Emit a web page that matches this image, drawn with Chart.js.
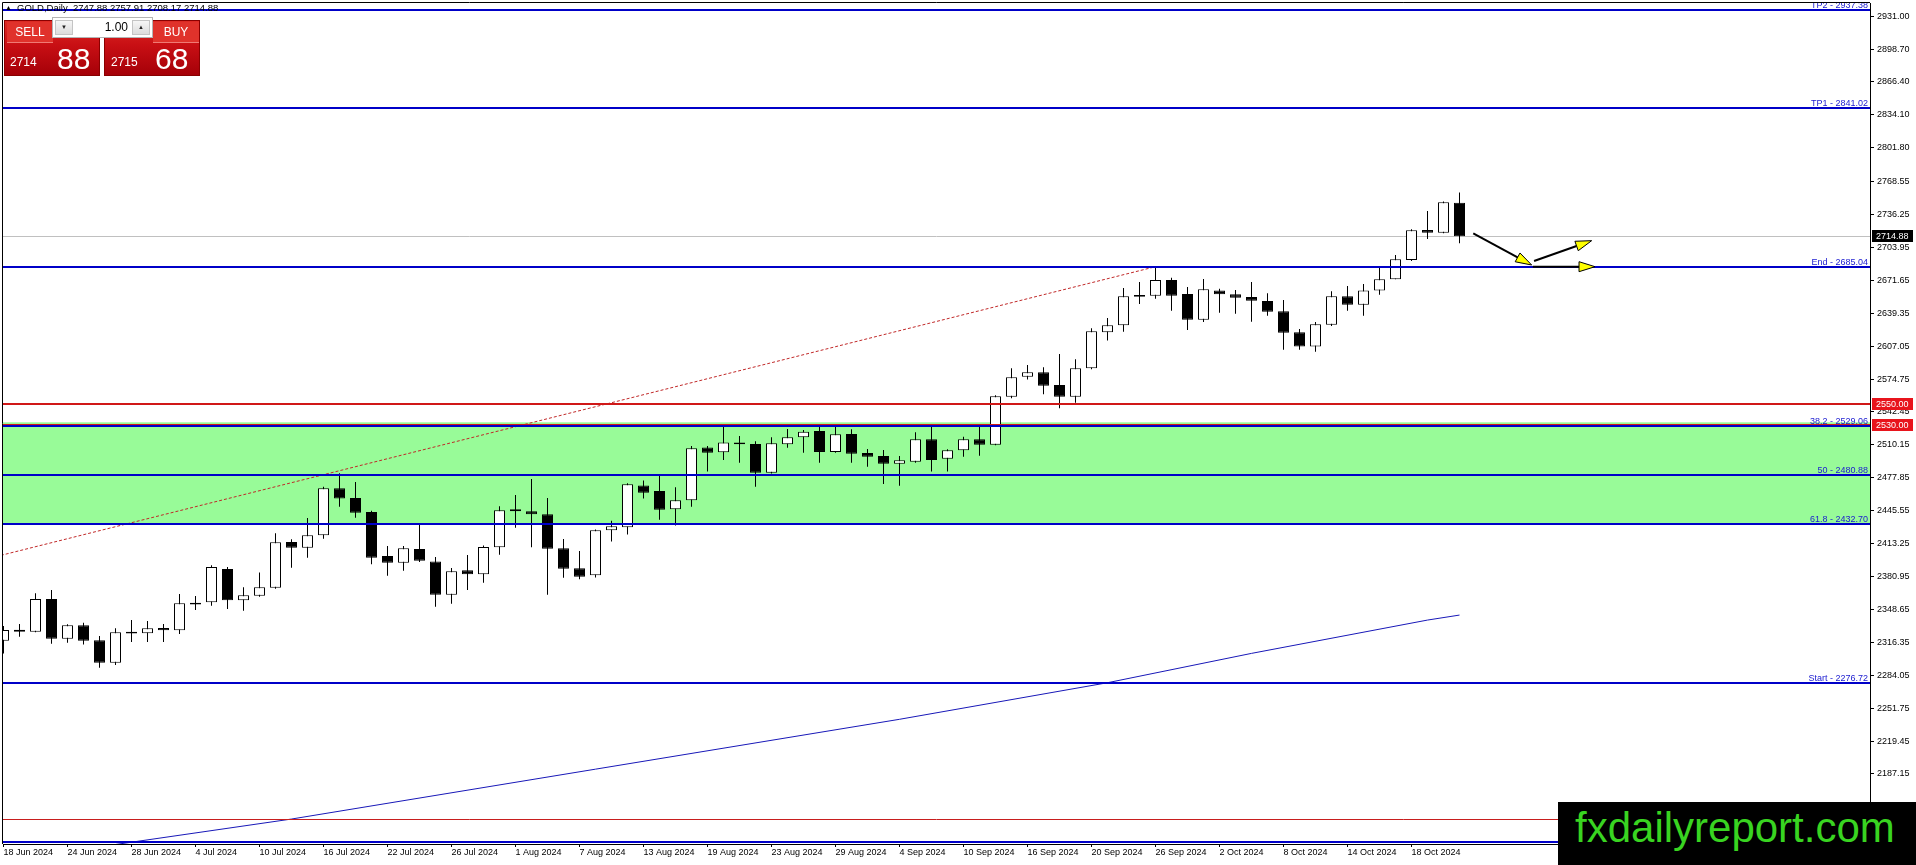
<!DOCTYPE html>
<html>
<head>
<meta charset="utf-8">
<title>GOLD,Daily</title>
<script src="https://cdn.jsdelivr.net/npm/chart.js@4.4.1/dist/chart.umd.min.js"></script>
<style>
    html, body { margin: 0; padding: 0; background: #fff; overflow: hidden; }
    #wrap { position: relative; width: 1916px; height: 865px; font-family: "Liberation Sans", Arial, sans-serif; }
    #goldChart { position: absolute; left: 0; top: 0; }
    .abs { position: absolute; }
    #symbol { left: 17px; top: 3px; font-size: 9.5px; line-height: 1; color: #000; white-space: pre; }
    #tri { left: 5px; top: 4px; font-size: 7px; line-height: 1; color: #000; }
    .trade { top: 20px; height: 56px; box-sizing: border-box; border: 1px solid #8a0000;
             background: linear-gradient(#dd2a24, #c80f14 45%, #a50008); color: #fff; }
    .trade .head { top: 1px; height: 21px; box-sizing: border-box; background: #e0322b;
                   border-bottom: 1px solid #f07a74; font-size: 12px; line-height: 20px; text-align: center; }
    .trade .small { font-size: 12px; line-height: 1; }
    .trade .big { font-size: 30px; line-height: 1; }
    #spin { left: 52px; top: 17px; width: 101px; height: 21px; box-sizing: border-box; background: #fff; border: 1px solid #b4b4b4; }
    .btn { top: 2px; width: 18px; height: 15px; box-sizing: border-box; border: 1px solid #c4c4c4;
           background: linear-gradient(#f6f6f6, #dcdcdc); font-size: 6px; line-height: 13px; text-align: center; color: #222; }
    #lot { right: 24px; top: 3px; font-size: 12px; line-height: 1; color: #000; }
    #brand { left: 1558px; top: 802px; width: 358px; height: 63px; background: #000; }
    #brand span { position: absolute; left: 17px; top: 5px; font-size: 42px; line-height: 1; color: #39d421; white-space: nowrap; }
</style>
</head>
<body>
<div id="wrap">
    <canvas id="goldChart" width="1916" height="865"></canvas>

    <div id="tri" class="abs">▲</div>
    <div id="symbol" class="abs">GOLD,Daily  2747.88 2757.91 2708.17 2714.88</div>

    <div class="abs trade" style="left:4px;width:96px;">
        <div class="abs head" style="left:2px;width:46px;">SELL</div>
        <div class="abs small" style="left:5px;top:35px;">2714</div>
        <div class="abs big" style="left:52px;top:23px;">88</div>
    </div>
    <div class="abs trade" style="left:104px;width:96px;">
        <div class="abs head" style="left:48px;width:46px;">BUY</div>
        <div class="abs small" style="left:6px;top:35px;">2715</div>
        <div class="abs big" style="left:50px;top:23px;">68</div>
    </div>
    <div id="spin" class="abs">
        <div class="abs btn" style="left:2px;">▼</div>
        <div id="lot" class="abs">1.00</div>
        <div class="abs btn" style="right:2px;">▲</div>
    </div>

    <div id="brand" class="abs"><span>fxdailyreport.com</span></div>
</div>

<script>
// GOLD Daily candles
// ================================================

const dates = [
    '18 Jun 2024', '19 Jun 2024', '20 Jun 2024', '21 Jun 2024', '24 Jun 2024', '25 Jun 2024', '26 Jun 2024', '27 Jun 2024', '28 Jun 2024',
    '1 Jul 2024', '2 Jul 2024', '3 Jul 2024', '4 Jul 2024', '5 Jul 2024', '8 Jul 2024', '9 Jul 2024', '10 Jul 2024', '11 Jul 2024',
    '12 Jul 2024', '15 Jul 2024', '16 Jul 2024', '17 Jul 2024', '18 Jul 2024', '19 Jul 2024', '22 Jul 2024', '23 Jul 2024', '24 Jul 2024',
    '25 Jul 2024', '26 Jul 2024', '29 Jul 2024', '30 Jul 2024', '31 Jul 2024',
    '1 Aug 2024', '2 Aug 2024', '5 Aug 2024', '6 Aug 2024', '7 Aug 2024', '8 Aug 2024', '9 Aug 2024', '12 Aug 2024', '13 Aug 2024',
    '14 Aug 2024', '15 Aug 2024', '16 Aug 2024', '19 Aug 2024', '20 Aug 2024', '21 Aug 2024', '22 Aug 2024', '23 Aug 2024', '26 Aug 2024',
    '27 Aug 2024', '28 Aug 2024', '29 Aug 2024', '30 Aug 2024',
    '2 Sep 2024', '3 Sep 2024', '4 Sep 2024', '5 Sep 2024', '6 Sep 2024', '9 Sep 2024', '10 Sep 2024', '11 Sep 2024', '12 Sep 2024',
    '13 Sep 2024', '16 Sep 2024', '17 Sep 2024', '18 Sep 2024', '19 Sep 2024', '20 Sep 2024', '23 Sep 2024', '24 Sep 2024', '25 Sep 2024',
    '26 Sep 2024', '27 Sep 2024', '30 Sep 2024',
    '1 Oct 2024', '2 Oct 2024', '3 Oct 2024', '4 Oct 2024', '7 Oct 2024', '8 Oct 2024', '9 Oct 2024', '10 Oct 2024', '11 Oct 2024',
    '14 Oct 2024', '15 Oct 2024', '16 Oct 2024', '17 Oct 2024', '18 Oct 2024', '21 Oct 2024', '22 Oct 2024', '23 Oct 2024'
];

const opens = [
    2318.0, 2328.6, 2326.8, 2358.9, 2319.9, 2333.0, 2318.3, 2296.4, 2326.8, 2325.2,
    2330.4, 2328.1, 2355.3, 2355.6, 2388.3, 2357.6, 2362.1, 2370.0, 2414.8, 2409.3,
    2421.4, 2467.5, 2458.0, 2444.3, 2401.1, 2394.5, 2407.9, 2395.8, 2363.1, 2387.0,
    2383.1, 2409.6, 2446.9, 2444.9, 2442.0, 2408.6, 2389.0, 2382.1, 2426.3, 2429.2,
    2470.4, 2464.9, 2446.9, 2455.7, 2507.7, 2502.8, 2512.6, 2511.0, 2482.9, 2510.7,
    2517.6, 2523.8, 2503.2, 2520.8, 2502.2, 2499.2, 2491.7, 2493.7, 2515.6, 2496.6,
    2504.8, 2515.6, 2510.4, 2557.5, 2577.1, 2581.4, 2568.9, 2557.5, 2585.3, 2620.6,
    2627.5, 2657.3, 2656.6, 2672.0, 2658.2, 2633.0, 2661.8, 2657.9, 2655.3, 2651.4,
    2641.2, 2620.6, 2606.6, 2628.1, 2656.0, 2647.8, 2661.8, 2672.6, 2691.6, 2721.1,
    2718.4, 2747.88
];
const highs = [
    2332.4, 2334.3, 2364.4, 2367.7, 2334.0, 2335.6, 2322.6, 2330.1, 2338.3, 2337.3,
    2334.3, 2363.8, 2361.8, 2391.9, 2390.3, 2370.3, 2385.0, 2423.3, 2417.4, 2438.4,
    2469.1, 2482.2, 2473.7, 2445.6, 2410.9, 2410.9, 2432.2, 2400.1, 2389.3, 2402.1,
    2411.5, 2449.8, 2460.9, 2476.7, 2458.0, 2417.8, 2406.0, 2427.0, 2435.8, 2472.4,
    2475.3, 2479.6, 2468.5, 2509.1, 2509.1, 2528.0, 2518.9, 2513.6, 2517.6, 2525.7,
    2524.8, 2528.0, 2528.0, 2525.4, 2506.1, 2505.1, 2499.2, 2522.5, 2528.0, 2505.8,
    2518.2, 2528.7, 2558.8, 2585.3, 2588.6, 2586.3, 2599.4, 2594.1, 2624.6, 2634.7,
    2664.1, 2670.0, 2685.04, 2674.3, 2665.1, 2673.0, 2663.5, 2662.2, 2670.0, 2658.9,
    2652.4, 2623.9, 2630.8, 2660.9, 2666.1, 2668.1, 2684.4, 2696.5, 2721.7, 2739.7,
    2749.0, 2757.91
];
const lows = [
    2305.5, 2321.9, 2326.2, 2315.0, 2316.0, 2314.1, 2291.5, 2294.1, 2316.7, 2316.7,
    2316.7, 2324.5, 2348.1, 2352.3, 2349.1, 2347.4, 2361.0, 2369.0, 2389.6, 2399.4,
    2418.1, 2449.5, 2438.7, 2392.9, 2381.8, 2386.7, 2395.2, 2351.3, 2354.3, 2367.7,
    2374.9, 2402.4, 2428.9, 2409.6, 2363.1, 2379.8, 2378.2, 2380.1, 2415.2, 2422.3,
    2457.4, 2436.7, 2430.9, 2449.5, 2483.9, 2495.3, 2492.7, 2469.1, 2482.0, 2507.4,
    2502.5, 2492.7, 2502.5, 2492.7, 2488.8, 2471.8, 2470.1, 2492.7, 2483.9, 2483.9,
    2498.6, 2499.6, 2509.7, 2555.8, 2574.2, 2559.8, 2546.0, 2551.6, 2584.3, 2612.5,
    2621.3, 2648.4, 2653.7, 2641.9, 2622.9, 2630.7, 2639.9, 2638.9, 2631.1, 2637.0,
    2603.6, 2603.6, 2601.6, 2626.8, 2641.9, 2637.0, 2657.6, 2672.6, 2690.6, 2712.2,
    2717.8, 2708.17
];
const closes = [
    2328.5, 2326.8, 2358.9, 2319.9, 2333.0, 2318.0, 2296.4, 2326.2, 2324.9, 2330.1,
    2328.1, 2354.6, 2353.5, 2390.3, 2357.6, 2362.5, 2370.3, 2414.5, 2409.3, 2421.4,
    2467.5, 2457.4, 2443.6, 2399.4, 2394.5, 2408.6, 2396.5, 2363.1, 2386.0, 2383.1,
    2409.9, 2445.9, 2444.9, 2442.0, 2408.3, 2388.6, 2380.8, 2426.3, 2430.2, 2471.4,
    2463.2, 2446.6, 2455.7, 2506.8, 2502.5, 2512.6, 2510.7, 2482.9, 2511.7, 2517.6,
    2523.1, 2503.2, 2520.5, 2501.5, 2498.6, 2491.7, 2495.0, 2515.6, 2495.3, 2504.8,
    2515.6, 2510.4, 2557.8, 2576.5, 2581.4, 2568.3, 2557.5, 2585.3, 2621.6, 2627.5,
    2656.0, 2655.6, 2672.0, 2656.6, 2633.0, 2662.8, 2657.9, 2654.6, 2651.7, 2640.9,
    2620.3, 2606.6, 2628.5, 2656.0, 2647.8, 2661.8, 2672.6, 2692.3, 2720.7, 2718.4,
    2748.2, 2714.88
];

// Moving average, read at a handful of bars along the thin blue curve
const maBars = [7, 18, 56, 69, 78, 89, 91];
const maValues = [2117.9, 2142.9, 2240.8, 2276.7, 2305.5, 2338.2, 2343.1];

// Price scale labels (right side)
const priceTicks = [
    2931.00, 2898.70, 2866.40, 2834.10, 2801.80, 2768.55, 2736.25, 2703.95,
    2671.65, 2639.35, 2607.05, 2574.75, 2542.45, 2510.15, 2477.85, 2445.55,
    2413.25, 2380.95, 2348.65, 2316.35, 2284.05, 2251.75, 2219.45, 2187.15
];

// Fibonacci expansion levels (blue lines)
const fibNames = ['TP2', 'TP1', 'End', '38.2', '50', '61.8', 'Start', ''];
const fibPrices = [2937.38, 2841.02, 2685.04, 2529.06, 2480.88, 2432.70, 2276.72, 2120.74];

// Red horizontal levels
const redLevels = [2550.00, 2530.00];
const supportLevel = 2142.9;

// Green zone and last price
const zoneTop = 2532.3;
const zoneBottom = 2432.70;
const lastPrice = 2714.88;

// Dashed fib diagonal: start low (early May) -> 26 Sep high
const trendBars = [-32, 72];
const trendPrices = [2276.72, 2685.04];

// Forecast arrows (bar, price) -> (bar, price)
const arrowFromBars = [91.86, 95.66, 95.58];
const arrowFromPrices = [2717.8, 2690.6, 2685.04];
const arrowToBars = [95.51, 99.26, 99.47];
const arrowToPrices = [2686.7, 2710.6, 2685.04];

// Visible window of the MT4 chart
const xMin = -0.03125;
const xMax = 116.65625;
const yMin = 2118.40;
const yMax = 2943.87;

Chart.defaults.font.family = '"Liberation Sans", Arial, sans-serif';
Chart.defaults.font.size = 9;
Chart.defaults.color = '#000';

function hLine(ctx, area, py, color, width) {
    const yy = width % 2 ? Math.round(py) + 0.5 : Math.round(py);
    ctx.strokeStyle = color;
    ctx.lineWidth = width;
    ctx.beginPath();
    ctx.moveTo(area.left, yy);
    ctx.lineTo(area.right, yy);
    ctx.stroke();
}

function drawArrow(ctx, x0, y0, x1, y1) {
    const ang = Math.atan2(y1 - y0, x1 - x0);
    const len = 16, half = 5;
    const bx = x1 - len * Math.cos(ang);
    const by = y1 - len * Math.sin(ang);

    ctx.strokeStyle = '#000';
    ctx.lineWidth = 2;
    ctx.beginPath();
    ctx.moveTo(x0, y0);
    ctx.lineTo(bx, by);
    ctx.stroke();

    ctx.beginPath();
    ctx.moveTo(x1, y1);
    ctx.lineTo(bx + half * Math.sin(ang), by - half * Math.cos(ang));
    ctx.lineTo(bx - half * Math.sin(ang), by + half * Math.cos(ang));
    ctx.closePath();
    ctx.fillStyle = '#ffff00';
    ctx.fill();
    ctx.lineWidth = 1;
    ctx.stroke();
}

function axisTag(ctx, chart, value, bg) {
    const y = Math.round(chart.scales.y.getPixelForValue(value));
    const left = chart.chartArea.right + 2;
    ctx.fillStyle = bg;
    ctx.fillRect(left, y - 6, 41, 12);
    ctx.fillStyle = '#fff';
    ctx.font = '9px "Liberation Sans", Arial, sans-serif';
    ctx.textAlign = 'left';
    ctx.textBaseline = 'middle';
    ctx.fillText(value.toFixed(2), left + 4, y + 0.5);
}

// Objects drawn on top of the price chart (zone, levels, labels, arrows)
const mt4Overlay = {
    id: 'mt4Overlay',
    beforeDatasetsDraw(chart) {
        const { ctx, chartArea: a, scales: { x, y } } = chart;
        ctx.save();
        ctx.beginPath();
        ctx.rect(a.left, a.top, a.right - a.left, a.bottom - a.top);
        ctx.clip();

        // green retracement zone
        const zt = y.getPixelForValue(zoneTop);
        const zb = y.getPixelForValue(zoneBottom);
        ctx.fillStyle = '#98fb98';
        ctx.fillRect(a.left, zt, a.right - a.left, zb - zt);

        // bid line
        hLine(ctx, a, y.getPixelForValue(lastPrice), '#c0c0c0', 1);

        // dashed diagonal of the fib tool
        ctx.setLineDash([3, 2]);
        ctx.strokeStyle = '#c02828';
        ctx.lineWidth = 1;
        ctx.beginPath();
        ctx.moveTo(x.getPixelForValue(trendBars[0]), y.getPixelForValue(trendPrices[0]));
        ctx.lineTo(x.getPixelForValue(trendBars[1]), y.getPixelForValue(trendPrices[1]));
        ctx.stroke();
        ctx.setLineDash([]);
        ctx.restore();
    },
    afterDatasetsDraw(chart) {
        const { ctx, chartArea: a, scales: { x, y } } = chart;
        ctx.save();
        ctx.beginPath();
        ctx.rect(a.left, a.top, a.right - a.left, a.bottom - a.top);
        ctx.clip();

        hLine(ctx, a, y.getPixelForValue(supportLevel), '#c81e1e', 1);
        redLevels.forEach(v => hLine(ctx, a, y.getPixelForValue(v), '#d01818', 2));
        fibPrices.forEach(v => hLine(ctx, a, y.getPixelForValue(v), '#0000c8', 2));

        // fib level captions
        ctx.font = '9px "Liberation Sans", Arial, sans-serif';
        ctx.fillStyle = '#1a1ad0';
        ctx.textAlign = 'right';
        ctx.textBaseline = 'alphabetic';
        fibPrices.forEach((v, k) => {
            if (!fibNames[k]) return;
            ctx.fillText(fibNames[k] + ' - ' + v.toFixed(2), a.right - 2, Math.round(y.getPixelForValue(v)) - 2);
        });

        // forecast arrows
        arrowFromBars.forEach((b, k) => {
            drawArrow(ctx,
                x.getPixelForValue(b), y.getPixelForValue(arrowFromPrices[k]),
                x.getPixelForValue(arrowToBars[k]), y.getPixelForValue(arrowToPrices[k]));
        });
        ctx.restore();
    },
    afterDraw(chart) {
        const { ctx, chartArea: a } = chart;
        ctx.save();
        // window frame (top and left edges)
        ctx.strokeStyle = '#000';
        ctx.lineWidth = 1;
        ctx.beginPath();
        ctx.moveTo(a.left - 0.5, a.bottom);
        ctx.lineTo(a.left - 0.5, a.top - 0.5);
        ctx.lineTo(a.right, a.top - 0.5);
        ctx.stroke();

        // price tags on the axis
        axisTag(ctx, chart, lastPrice, '#000');
        redLevels.forEach(v => axisTag(ctx, chart, v, '#e8141c'));
        ctx.restore();
    }
};

const idx = dates.map((d, i) => i);
const wickData = idx.map(i => ({ x: i, y: [lows[i], highs[i]] }));
const bodyData = idx.map(i => ({ x: i, y: [opens[i], closes[i]] }));
const bodyColors = idx.map(i => closes[i] >= opens[i] ? '#ffffff' : '#000000');
const maData = maBars.map((b, k) => ({ x: b, y: maValues[k] }));

const ctx = document.getElementById('goldChart');
new Chart(ctx, {
    type: 'bar',
    data: {
        datasets: [
            {
                label: 'Body',
                data: bodyData,
                backgroundColor: bodyColors,
                borderColor: '#000',
                borderWidth: 1,
                borderSkipped: false,
                barThickness: 11,
                inflateAmount: 0,
                grouped: false,
                order: 0
            },
            {
                label: 'Wick',
                data: wickData,
                backgroundColor: '#000',
                borderWidth: 0,
                barThickness: 1,
                inflateAmount: 0,
                grouped: false,
                order: 1
            },
            {
                type: 'line',
                label: 'MA',
                data: maData,
                borderColor: '#1818b8',
                borderWidth: 1,
                pointRadius: 0,
                tension: 0,
                order: 2
            }
        ]
    },
    options: {
        responsive: false,
        devicePixelRatio: 1,
        animation: false,
        layout: {
            padding: { left: 3, top: 3, right: 0, bottom: 0 }
        },
        plugins: {
            legend: { display: false },
            tooltip: { enabled: false }
        },
        scales: {
            x: {
                type: 'linear',
                min: xMin,
                max: xMax,
                offset: false,
                grid: {
                    offset: false,
                    drawOnChartArea: false,
                    drawTicks: true,
                    tickLength: 3,
                    color: '#000'
                },
                border: { display: true, color: '#000', width: 1 },
                ticks: {
                    align: 'start',
                    autoSkip: false,
                    maxRotation: 0,
                    padding: 0,
                    color: '#000',
                    font: { size: 9 },
                    callback: value => dates[value]
                },
                afterBuildTicks: scale => {
                    scale.ticks = idx.filter(i => i % 4 === 0).map(i => ({ value: i }));
                },
                afterFit: scale => {
                    scale.height = 21;
                    scale.paddingLeft = 0;
                    scale.paddingRight = 0;
                }
            },
            y: {
                type: 'linear',
                position: 'right',
                min: yMin,
                max: yMax,
                grid: {
                    drawOnChartArea: false,
                    drawTicks: true,
                    tickLength: 4,
                    color: '#000'
                },
                border: { display: true, color: '#000', width: 1 },
                ticks: {
                    padding: 3,
                    color: '#000',
                    font: { size: 9 },
                    callback: value => Number(value).toFixed(2)
                },
                afterBuildTicks: scale => {
                    scale.ticks = priceTicks.map(v => ({ value: v }));
                },
                afterFit: scale => {
                    scale.width = 46;
                    // labels near the edges must not shrink the plot area
                    scale.paddingTop = 0;
                    scale.paddingBottom = 0;
                }
            }
        }
    },
    plugins: [mt4Overlay]
});
</script>
</body>
</html>
